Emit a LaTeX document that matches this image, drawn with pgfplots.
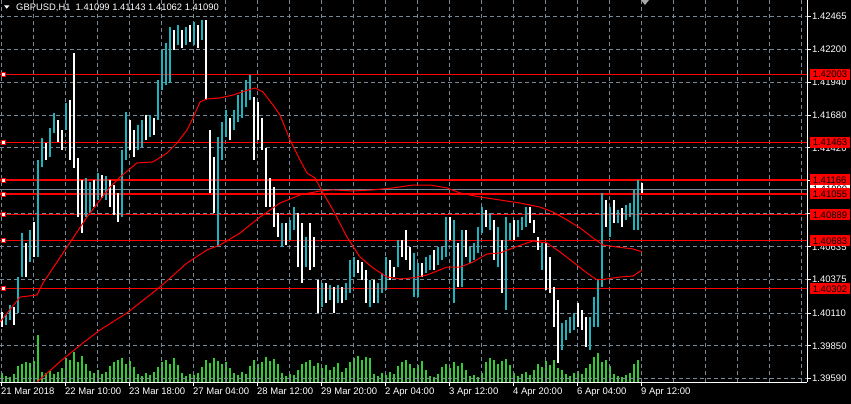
\documentclass[border=0pt]{standalone}
\usepackage{pgfplots}
\pgfplotsset{compat=1.18}
\usepackage{pgfplotstable}
\usepackage{fontspec}
\setmainfont{Liberation Sans}
\definecolor{upcol}{RGB}{30,180,190}
\definecolor{dncol}{RGB}{255,255,255}
\definecolor{volcol}{RGB}{50,205,50}
\definecolor{gridcol}{RGB}{119,136,153}
\definecolor{lvlred}{RGB}{255,0,0}

% hourly bars: x (chart position), low, high, direction (1 = up, 0 = down)
\pgfplotstableread{
x lo hi d
2 1.39999 1.40119 0
6 1.40015 1.40095 1
10 1.40055 1.40174 1
14 1.40015 1.40158 0
18 1.40111 1.40396 1
22 1.40396 1.40745 1
26 1.40396 1.40666 0
30 1.40515 1.40769 1
34 1.40555 1.40833 0
38 1.40555 1.41325 1
42 1.41269 1.41500 1
46 1.41325 1.41459 0
50 1.41348 1.41579 1
54 1.41539 1.41697 1
58 1.41467 1.41642 0
62 1.41404 1.41563 0
66 1.41563 1.41777 1
70 1.41325 1.41801 0
74 1.41262 1.42173 0
78 1.40872 1.41341 0
82 1.40745 1.41166 0
86 1.40872 1.41182 1
90 1.40904 1.41150 1
94 1.40951 1.41166 0
98 1.41007 1.41221 1
102 1.41024 1.41205 0
106 1.41007 1.41197 1
110 1.40951 1.41166 0
114 1.40888 1.41126 0
118 1.40833 1.41063 0
122 1.40872 1.41404 1
126 1.41325 1.41705 1
130 1.41404 1.41642 0
134 1.41348 1.41563 0
138 1.41404 1.41602 1
142 1.41427 1.41642 1
146 1.41483 1.41681 0
150 1.41507 1.41681 1
154 1.41523 1.41658 0
158 1.41642 1.41959 1
162 1.41880 1.42197 1
166 1.41919 1.42253 1
170 1.41935 1.42379 1
174 1.42197 1.42356 0
178 1.42237 1.42395 1
182 1.42214 1.42356 0
186 1.42237 1.42379 1
190 1.42261 1.42395 0
194 1.42237 1.42419 1
198 1.42214 1.42395 0
202 1.42277 1.42435 1
206 1.41801 1.42435 0
210 1.41063 1.41563 0
214 1.40904 1.41348 0
218 1.40634 1.41507 1
222 1.41325 1.41626 1
226 1.41507 1.41721 1
230 1.41483 1.41658 0
234 1.41563 1.41721 1
238 1.41626 1.41840 1
242 1.41658 1.41880 1
246 1.41745 1.41959 1
250 1.41801 1.41999 1
254 1.41325 1.41824 0
258 1.41483 1.41785 0
262 1.41404 1.41658 0
266 1.40951 1.41420 0
270 1.40951 1.41182 0
274 1.40793 1.41110 0
278 1.40713 1.40904 0
282 1.40634 1.40825 1
286 1.40650 1.40825 0
290 1.40690 1.40849 1
294 1.40769 1.40951 1
298 1.40475 1.40904 0
302 1.40349 1.40825 0
306 1.40475 1.40713 1
310 1.40452 1.40825 0
314 1.40475 1.40713 0
318 1.40111 1.40373 0
322 1.40158 1.40349 1
326 1.40190 1.40349 0
330 1.40214 1.40333 1
334 1.40111 1.40317 0
338 1.40190 1.40333 1
342 1.40190 1.40317 0
346 1.40214 1.40349 1
350 1.40269 1.40531 1
354 1.40396 1.40555 1
358 1.40428 1.40531 0
362 1.40373 1.40515 0
366 1.40190 1.40452 0
370 1.40158 1.40373 1
374 1.40190 1.40373 0
378 1.40190 1.40349 1
382 1.40269 1.40428 1
386 1.40293 1.40555 1
390 1.40373 1.40531 0
394 1.40396 1.40475 0
398 1.40475 1.40690 1
402 1.40555 1.40690 0
406 1.40531 1.40769 0
410 1.40452 1.40634 0
414 1.40237 1.40587 1
418 1.40237 1.40507 1
422 1.40396 1.40507 0
426 1.40428 1.40555 1
430 1.40452 1.40571 1
434 1.40452 1.40611 0
438 1.40491 1.40634 1
442 1.40531 1.40634 1
446 1.40555 1.40872 1
450 1.40690 1.40872 0
454 1.40190 1.40849 1
458 1.40317 1.40666 0
462 1.40317 1.40769 1
466 1.40555 1.40769 0
470 1.40507 1.40634 1
474 1.40531 1.40666 1
478 1.40587 1.40793 1
482 1.40745 1.40951 1
486 1.40793 1.40928 0
490 1.40769 1.40904 1
494 1.40531 1.40849 0
498 1.40475 1.40793 1
502 1.40269 1.40690 0
506 1.40135 1.40872 1
510 1.40690 1.40825 1
514 1.40690 1.40849 0
518 1.40713 1.40849 1
522 1.40769 1.40872 1
526 1.40793 1.40951 1
530 1.40825 1.40951 0
534 1.40745 1.40849 0
538 1.40611 1.40713 0
542 1.40452 1.40666 1
546 1.40293 1.40666 0
550 1.40269 1.40555 0
554 1.39999 1.40317 0
558 1.39714 1.40214 0
562 1.39817 1.40031 1
566 1.39897 1.40055 1
570 1.39952 1.40079 1
574 1.39976 1.40111 1
578 1.39999 1.40190 0
582 1.39976 1.40135 0
586 1.39841 1.40079 0
590 1.39817 1.40079 1
594 1.39999 1.40237 1
598 1.39999 1.40373 1
602 1.40317 1.41063 1
606 1.40793 1.41007 0
610 1.40713 1.40951 1
614 1.40825 1.41007 0
618 1.40825 1.40928 1
622 1.40793 1.40944 0
626 1.40849 1.40967 1
630 1.40872 1.40983 1
634 1.40769 1.41087 1
638 1.40769 1.41166 1
642 1.41062 1.41143 0
}\bars

\pgfplotstableread{
x y
0 1.40039
20 1.40237
37 1.40253
43 1.40349
67 1.40634
87 1.40872
110 1.41110
120 1.41189
137 1.41301
153 1.41309
167 1.41380
177 1.41459
187 1.41563
193 1.41658
200 1.41785
207 1.41809
220 1.41817
233 1.41840
245 1.41872
255 1.41896
263 1.41864
273 1.41761
280 1.41681
290 1.41483
300 1.41325
307 1.41221
315 1.41182
323 1.41063
333 1.40928
347 1.40713
360 1.40555
373 1.40468
387 1.40396
400 1.40381
413 1.40389
427 1.40412
447 1.40475
460 1.40475
473 1.40515
487 1.40579
500 1.40587
513 1.40627
527 1.40666
533 1.40682
547 1.40666
560 1.40595
573 1.40515
587 1.40428
597 1.40373
607 1.40381
620 1.40396
633 1.40404
642 1.40452
}\fastma

\pgfplotstableread{
x y
37 1.39563
62 1.39738
83 1.39873
100 1.39976
127 1.40111
160 1.40317
187 1.40507
207 1.40611
220 1.40650
240 1.40745
260 1.40872
280 1.40983
300 1.41047
320 1.41079
333 1.41087
353 1.41079
373 1.41087
393 1.41103
413 1.41126
430 1.41126
447 1.41103
460 1.41063
480 1.41031
500 1.41007
520 1.40983
540 1.40951
553 1.40912
567 1.40849
580 1.40786
593 1.40706
603 1.40650
617 1.40634
633 1.40619
642 1.40595
}\slowma

\pgfplotstableread{
x v
2 9
6 6
10 5
14 8
18 16
22 18
26 20
30 19
34 21
38 47
42 10
46 9
50 11
54 8
58 10
62 14
66 24
70 22
74 30
78 20
82 26
86 18
90 11
94 9
98 12
102 8
106 10
110 16
114 20
118 22
122 24
126 18
130 21
134 15
138 8
142 6
146 9
150 7
154 10
158 15
162 20
166 22
170 18
174 24
178 17
182 9
186 6
190 8
194 7
198 9
202 15
206 22
210 19
214 24
218 21
222 18
226 20
230 14
234 9
238 7
242 10
246 8
250 16
254 22
258 18
262 20
266 25
270 21
274 23
278 18
282 9
286 6
290 8
294 7
298 12
302 18
306 20
310 22
314 16
318 19
322 14
326 17
330 12
334 15
338 19
342 10
346 14
350 20
354 24
358 26
362 22
366 25
370 24
374 8
378 6
382 9
386 7
390 10
394 8
398 16
402 20
406 22
410 18
414 14
418 17
422 21
426 12
430 6
434 5
438 8
442 15
446 18
450 14
454 20
458 16
462 19
466 12
470 6
474 7
478 5
482 9
486 20
490 24
494 22
498 18
502 21
506 23
510 17
514 9
518 6
522 8
526 10
530 7
534 12
538 18
542 15
546 21
550 17
554 22
558 14
562 12
566 8
570 6
574 9
578 11
582 8
586 14
590 18
594 25
598 29
602 20
606 22
610 16
614 8
618 6
622 5
626 7
630 9
634 18
638 22
}\vol

\newcommand{\lblfont}{\fontsize{9.5bp}{11bp}\selectfont}

\begin{document}
\begin{tikzpicture}
\fill[black] (0bp,0bp) rectangle (851bp,404bp);

% volume histogram
\begin{axis}[at={(0bp,22bp)}, anchor=south west, scale only axis,
  width=807bp, height=382bp, xmin=0, xmax=807, ymin=0, ymax=382, hide axis]
\addplot[ycomb, draw=volcol, line width=2bp, mark=none] table[x=x,y=v] {\vol};
\end{axis}

% price chart
\begin{axis}[at={(0bp,22bp)}, anchor=south west, scale only axis,
  width=807bp, height=382bp, xmin=0, xmax=807, ymin=1.39563, ymax=1.42594,
  axis x line*=bottom, axis y line*=right,
  axis line style={white, line width=1bp},
  tick align=outside, major tick length=4bp, minor tick length=0pt,
  tick style={white, line width=1bp},
  grid=both,
  major grid style={gridcol, line width=1bp, dash pattern=on 4bp off 3bp},
  minor grid style={gridcol, line width=1bp, dash pattern=on 4bp off 3bp},
  xtick={1,65,129,193,257,321,385,449,513,577,641},
  xticklabels={21 Mar 2018,22 Mar 10:00,23 Mar 18:00,27 Mar 04:00,28 Mar 12:00,29 Mar 20:00,2 Apr 04:00,3 Apr 12:00,4 Apr 20:00,6 Apr 04:00,9 Apr 12:00},
  minor xtick={33,97,161,225,289,353,417,481,545,609,673,705,737,769,801},
  ytick={1.39590,1.39850,1.40110,1.40375,1.40635,1.40900,1.41160,1.41420,1.41680,1.41940,1.42200,1.42465},
  yticklabels={1.39590,1.39850,1.40110,1.40375,1.40635,{},1.41160,1.41420,1.41680,1.41940,1.42200,1.42465},
  ticklabel style={font=\lblfont, text=white},
  xticklabel style={anchor=north west, inner xsep=0pt, inner ysep=1.5bp},
  yticklabel style={anchor=west, inner xsep=0pt, xshift=1bp},
]
% current price line
\addplot[gridcol, line width=1bp, forget plot] coordinates {(0,1.41090) (807,1.41090)};
% level lines
\addplot[lvlred, line width=1.2bp, forget plot] coordinates {(0,1.42003) (807,1.42003)};
\addplot[lvlred, line width=1.2bp, forget plot] coordinates {(0,1.41463) (807,1.41463)};
\addplot[lvlred, line width=1.2bp, forget plot] coordinates {(0,1.41166) (807,1.41166)};
\addplot[lvlred, line width=1.2bp, forget plot] coordinates {(0,1.41055) (807,1.41055)};
\addplot[lvlred, line width=1.2bp, forget plot] coordinates {(0,1.40889) (807,1.40889)};
\addplot[lvlred, line width=1.2bp, forget plot] coordinates {(0,1.40683) (807,1.40683)};
\addplot[lvlred, line width=1.2bp, forget plot] coordinates {(0,1.40302) (807,1.40302)};
% bars
\addplot[draw=none, mark=none, forget plot,
  restrict expr to domain={\thisrow{d}}{0.5:1.5},
  error bars/.cd, y dir=plus, y explicit, error mark=none,
  error bar style={draw=upcol, solid, line width=2bp}]
  table[x=x, y=lo, y error plus expr=\thisrow{hi}-\thisrow{lo}] {\bars};
\addplot[draw=none, mark=none, forget plot,
  restrict expr to domain={\thisrow{d}}{-0.5:0.5},
  error bars/.cd, y dir=plus, y explicit, error mark=none,
  error bar style={draw=dncol, solid, line width=2bp}]
  table[x=x, y=lo, y error plus expr=\thisrow{hi}-\thisrow{lo}] {\bars};
% moving averages
\addplot[lvlred, line width=1bp, mark=none] table[x=x,y=y] {\fastma};
\addplot[lvlred, line width=1bp, mark=none] table[x=x,y=y] {\slowma};
% level markers
\addplot[only marks, mark=square*, mark size=2bp, mark options={fill=white, draw=lvlred, line width=0.8bp}]
  coordinates {(3.3,1.42003) (3.3,1.41463) (3.3,1.41166) (3.3,1.41055) (3.3,1.40889) (3.3,1.40683) (3.3,1.40302)};
\coordinate (p0) at (axis cs:807,1.41090);
\coordinate (p1) at (axis cs:807,1.42003);
\coordinate (p2) at (axis cs:807,1.41463);
\coordinate (p3) at (axis cs:807,1.41166);
\coordinate (p4) at (axis cs:807,1.41055);
\coordinate (p5) at (axis cs:807,1.40889);
\coordinate (p6) at (axis cs:807,1.40683);
\coordinate (p7) at (axis cs:807,1.40302);
\end{axis}

\tikzset{pricebox/.style={anchor=west, text=black, inner xsep=3.3bp, inner ysep=0pt,
  minimum height=11bp, font=\lblfont}}
\node[pricebox, fill=white] at ([xshift=2.3bp]p0) {1.41090};
\node[pricebox, fill=lvlred] at ([xshift=2.3bp]p1) {1.42003};
\node[pricebox, fill=lvlred] at ([xshift=2.3bp]p2) {1.41463};
\node[pricebox, fill=lvlred] at ([xshift=2.3bp]p3) {1.41166};
\node[pricebox, fill=lvlred] at ([xshift=2.3bp]p4) {1.41055};
\node[pricebox, fill=lvlred] at ([xshift=2.3bp]p5) {1.40889};
\node[pricebox, fill=lvlred] at ([xshift=2.3bp]p6) {1.40683};
\node[pricebox, fill=lvlred] at ([xshift=2.3bp]p7) {1.40302};

% title
\fill[white] (4bp,398.7bp) -- (9.5bp,398.7bp) -- (6.75bp,395.3bp) -- cycle;
\node[anchor=west, text=white, inner sep=0pt, font=\fontsize{9.4bp}{11bp}\selectfont]
  at (16bp,396.5bp) {GBPUSD,H1\ \ 1.41099 1.41143 1.41062 1.41090};
\fill[gray!70] (641bp,404bp) -- (649bp,404bp) -- (645bp,399bp) -- cycle;

\pgfresetboundingbox
\useasboundingbox (0bp,0bp) rectangle (851bp,404bp);
\end{tikzpicture}
\end{document}
